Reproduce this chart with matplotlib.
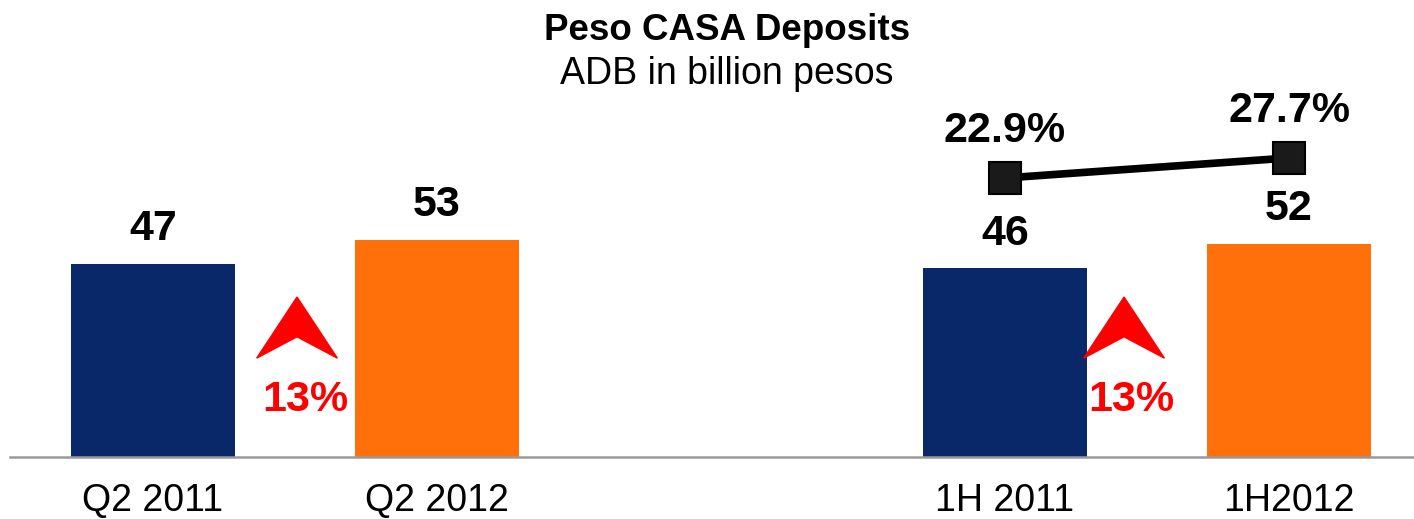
import matplotlib
matplotlib.use("Agg")
import matplotlib.pyplot as plt
from matplotlib.patches import Polygon

plt.rcParams["font.family"] = ["Liberation Sans", "DejaVu Sans"]

categories = ["Q2 2011", "Q2 2012", "1H 2011", "1H2012"]
positions = [0, 1, 3, 4]
deposits = [47, 53, 46, 52]
bar_colors = ["#08286A", "#FF700A", "#08286A", "#FF700A"]

share_pos = [3, 4]
share_pct = [22.9, 27.7]

growth_labels = ["13%", "13%"]

fig = plt.figure(figsize=(14.14, 5.19), dpi=100)
ax = fig.add_axes([0.007, 0.1195, 0.993, 0.765])

bars = ax.bar(positions, deposits, width=0.58, color=bar_colors, zorder=2)
for b, v in zip(bars, deposits):
    ax.annotate(str(v), (b.get_x() + b.get_width() / 2, v),
                xytext=(0, 25), textcoords="offset points",
                ha="center", va="center", fontsize=31, fontweight="bold")

ax.set_xlim(-0.504, 4.44)
ax.set_ylim(0, 96.8)
ax.set_xticks(positions)
ax.set_xticklabels(categories, fontsize=27)
ax.tick_params(axis="x", length=0, pad=19)
ax.set_yticks([])
for s in ["left", "right", "top"]:
    ax.spines[s].set_visible(False)
ax.spines["bottom"].set_color("#999999")
ax.spines["bottom"].set_linewidth(1.8)

# red growth arrows between each pair of bars
def up_arrow(xc, half_w=0.142, tip=39.0, notch=29.3, base=24.1):
    pts = [(xc, tip), (xc - half_w, base), (xc, notch), (xc + half_w, base)]
    ax.add_patch(Polygon(pts, closed=True, color="#FF0000", zorder=3))

up_arrow(0.507)
up_arrow(3.419)
for xc, lab in zip([0.535, 3.444], growth_labels):
    ax.text(xc, 13.9, lab, ha="center", va="center", fontsize=31,
            fontweight="bold", color="#FF0000")

# share line on its own scale
ax2 = ax.twinx()
ax2.set_ylim(-44.0, 51.2)
ax2.plot(share_pos, share_pct, color="black", linewidth=5.5,
         marker="s", markersize=23, markerfacecolor="#1a1a1a",
         markeredgecolor="#000000", markeredgewidth=1.5, zorder=4)
for x, v in zip(share_pos, share_pct):
    ax2.annotate(f"{v:.1f}%", (x, v), xytext=(0, 34), textcoords="offset points",
                 ha="center", va="center", fontsize=31, fontweight="bold")
ax2.set_yticks([])
for s in ax2.spines.values():
    s.set_visible(False)

fig.text(0.514, 0.942, "Peso CASA Deposits", ha="center", va="center",
         fontsize=26.5, fontweight="bold")
fig.text(0.514, 0.857, "ADB in billion pesos", ha="center", va="center",
         fontsize=27)

fig.savefig("out.png", dpi=100)
